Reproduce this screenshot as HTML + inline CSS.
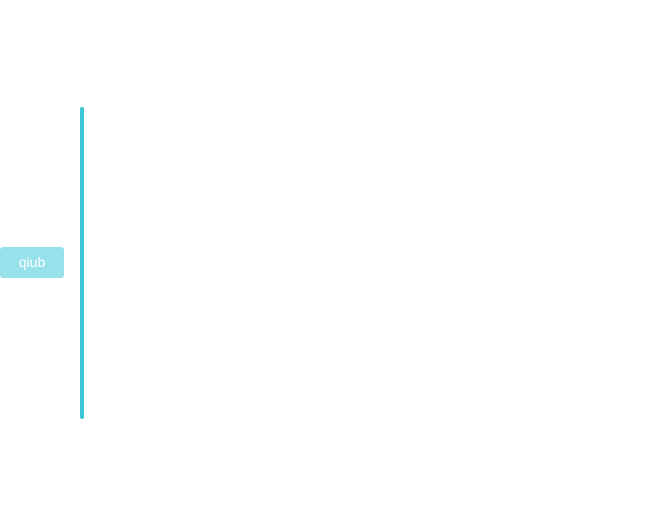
<!DOCTYPE html>
<html><head><style>
html,body{margin:0;padding:0;background:#fff;width:665px;height:525px;overflow:hidden;position:relative;font-family:"Liberation Sans",sans-serif}
.box{position:absolute;left:0;top:247px;width:64px;height:31px;background:#97e2ea;border-radius:3px;color:#fff;font-size:14px;line-height:31px;text-align:center}
.line{position:absolute;left:80px;top:107px;width:4px;height:312px;background:#3dc7d5;border-radius:2px}
</style></head><body>
<div class="box">qiub</div>
<div class="line"></div>
</body></html>
